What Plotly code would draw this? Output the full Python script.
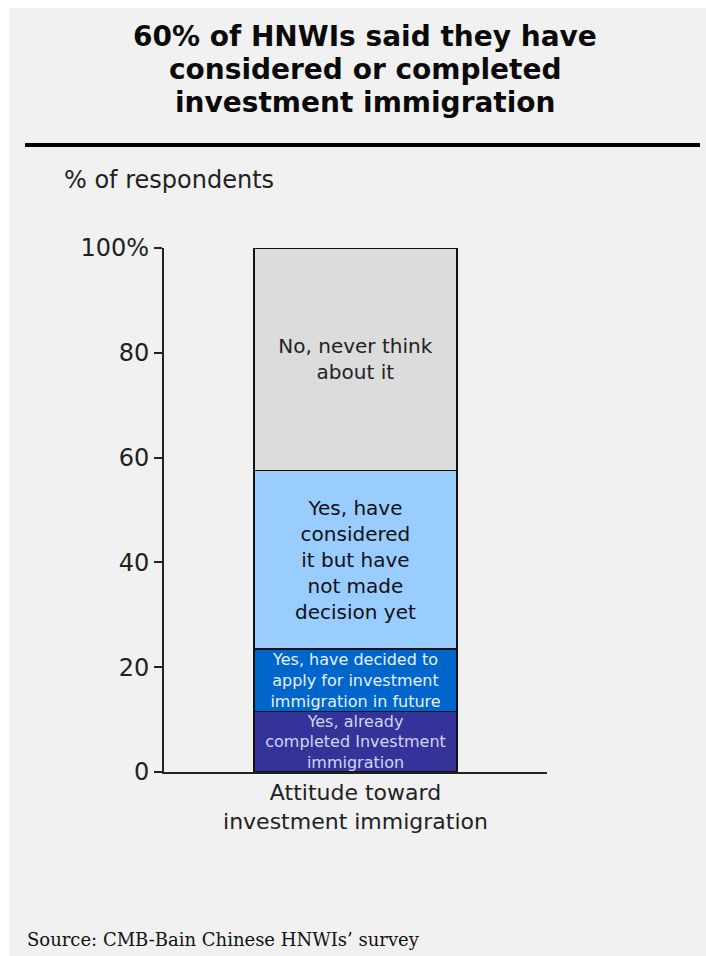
import plotly.graph_objects as go

# ---- data ----
category = ["Attitude toward<br>investment immigration"]
segments = [
    "Yes, already<br>completed Investment<br>immigration",
    "Yes, have decided to<br>apply for investment<br>immigration in future",
    "Yes, have<br>considered<br>it but have<br>not made<br>decision yet",
    "No, never think<br>about it",
]
values = [11.5, 12.0, 34.0, 42.5]
colors = ["#333399", "#0066cc", "#99ccff", "#dcdcdc"]
text_colors = ["#d4d4f4", "#e6f0ff", "#111111", "#222222"]
text_sizes = [16, 16, 20, 20]
tick_vals = [0, 20, 40, 60, 80, 100]
tick_text = ["0", "20", "40", "60", "80", "100%"]

title_lines = ["60% of HNWIs said they have", "considered or completed", "investment immigration"]

W, H = 706, 956
L, R, T, B = 164, 159, 248, 184
PW, PH = W - L - R, H - T - B


def xp(px):
    return (px - L) / PW


def yp(py):
    return (H - B - py) / PH


fig = go.Figure()
for seg, v, c, tc, ts in zip(segments, values, colors, text_colors, text_sizes):
    fig.add_trace(go.Bar(
        x=category, y=[v], name=seg.replace("<br>", " "),
        marker=dict(color=c, line=dict(color="#111111", width=1.5)),
        text=[seg], textposition="inside", insidetextanchor="middle",
        constraintext="none",
        textfont=dict(family="DejaVu Sans", size=ts, color=tc),
        hoverinfo="skip",
    ))

BG = "#f1f1f1"
shapes = [
    dict(type="rect", xref="paper", yref="paper", x0=xp(9), x1=xp(W + 2), y0=yp(H + 2), y1=yp(8),
         fillcolor=BG, line=dict(width=0), layer="below"),
    dict(type="line", xref="paper", yref="paper", x0=xp(25), x1=xp(700), y0=yp(145), y1=yp(145),
         line=dict(color="#000000", width=4)),
]

annotations = []
for line, cy in zip(title_lines, [37, 70, 102]):
    annotations.append(dict(text="<b>%s</b>" % line, xref="paper", yref="paper", x=xp(365), y=yp(cy),
                            xanchor="center", yanchor="middle", showarrow=False,
                            font=dict(family="DejaVu Sans", size=28, color="#0a0a0a")))
annotations += [
    dict(text="% of respondents", xref="paper", yref="paper", x=xp(62), y=yp(180),
         xanchor="left", yanchor="middle", showarrow=False,
         font=dict(family="DejaVu Sans", size=24, color="#222222")),
    dict(text="Source: CMB-Bain Chinese HNWIs\u2019 survey", xref="paper", yref="paper",
         x=xp(25), y=yp(939), xanchor="left", yanchor="middle", showarrow=False,
         font=dict(family="DejaVu Serif", size=18, color="#111111")),
]

fig.update_layout(
    width=W, height=H, autosize=False,
    margin=dict(l=L, r=R, t=T, b=B, pad=0),
    barmode="stack", bargap=0.47,
    paper_bgcolor="#ffffff", plot_bgcolor=BG,
    showlegend=False,
    shapes=shapes, annotations=annotations,
    xaxis=dict(showline=True, linecolor="#222222", linewidth=2, ticks="", showgrid=False,
               tickfont=dict(family="DejaVu Sans", size=22, color="#222222"), fixedrange=True),
    yaxis=dict(range=[0, 100], showline=True, linecolor="#222222", linewidth=2, ticks="outside",
               ticklen=8, tickwidth=1.5, tickcolor="#222222", showgrid=False, zeroline=False,
               tickvals=tick_vals, ticktext=tick_text,
               tickfont=dict(family="DejaVu Sans", size=24, color="#222222"), fixedrange=True),
)

fig.write_html("out.html")
